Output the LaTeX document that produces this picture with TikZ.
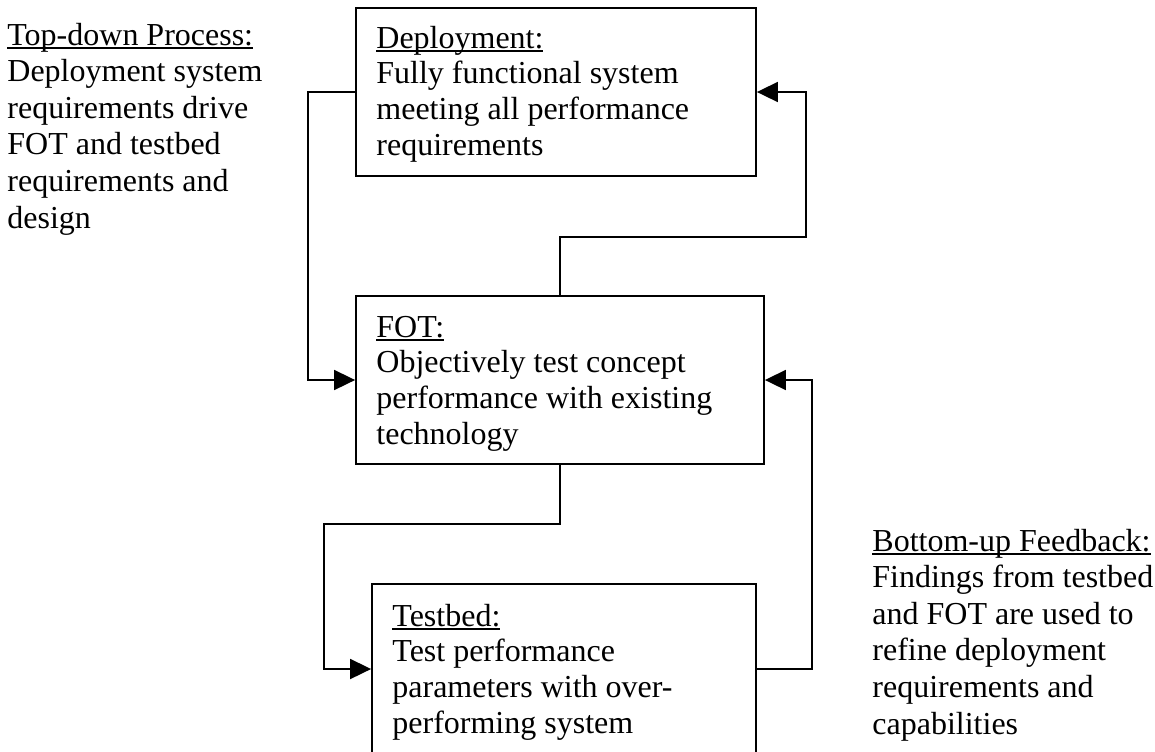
\documentclass[tikz,border=0pt]{standalone}
\usepackage{fontspec}
\setmainfont{Liberation Serif}
\usetikzlibrary{arrows.meta}
\newcommand\myul[1]{\setbox0\hbox{#1}\rlap{\rule[-1.8pt]{\wd0}{0.7pt}}\box0}
\tikzset{
  boxnode/.style={draw, line width=0.9pt, inner sep=0pt},
  txt/.style={anchor=base west, align=left, inner sep=0pt, font=\fontsize{16}{17.8}\selectfont},
  sidetxt/.style={anchor=base west, align=left, inner sep=0pt, font=\fontsize{16}{18.3}\selectfont},
  conn/.style={line width=0.9pt, -{Triangle[length=10.5pt, width=10pt]}},
}
\begin{document}
\begin{tikzpicture}[x=0.5pt, y=-0.5pt]
\useasboundingbox (0,0) rectangle (1155,751);
\begin{scope}
\clip (0,0) rectangle (1155,751);
% boxes
\node[boxnode, minimum width=200pt, minimum height=84pt] (dep) at (556,92) {};
\node[boxnode, minimum width=204pt, minimum height=84pt] (fot) at (560,380) {};
\node[boxnode, minimum width=192pt, minimum height=85pt] (tb) at (564,669) {};
% box texts (anchored at the baseline of the last line)
\node[txt] (deptxt) at (376,155) {\myul{Deployment:}\\Fully functional system\\meeting all performance\\requirements};
\node[txt] (fottxt) at (376,444) {\myul{FOT:}\\Objectively test concept\\performance with existing\\technology};
\node[txt] (tbtxt) at (392,733) {\myul{Testbed:}\\Test performance\\parameters with over-\\performing system};
% side texts
\node[sidetxt] (topdown) at (7,228) {\myul{Top-down Process:}\\Deployment system\\requirements drive\\FOT and testbed\\requirements and\\design};
\node[sidetxt] (bottomup) at (872,734) {\myul{Bottom-up Feedback:}\\Findings from testbed\\and FOT are used to\\refine deployment\\requirements and\\capabilities};
% connector corners
\coordinate (c1) at (308,92);
\coordinate (c2) at (560,237);
\coordinate (c3) at (806,237);
\coordinate (c4) at (560,524);
\coordinate (c5) at (324,524);
\coordinate (c6) at (812,669);
% connectors
\draw[conn] (dep.west) -- (c1) |- (fot.west);
\draw[conn] (fot.north) -- (c2) -- (c3) |- (dep.east);
\draw[conn] (fot.south) -- (c4) -- (c5) |- (tb.west);
\draw[conn] (tb.east) -- (c6) |- (fot.east);
\end{scope}
\end{tikzpicture}
\end{document}
